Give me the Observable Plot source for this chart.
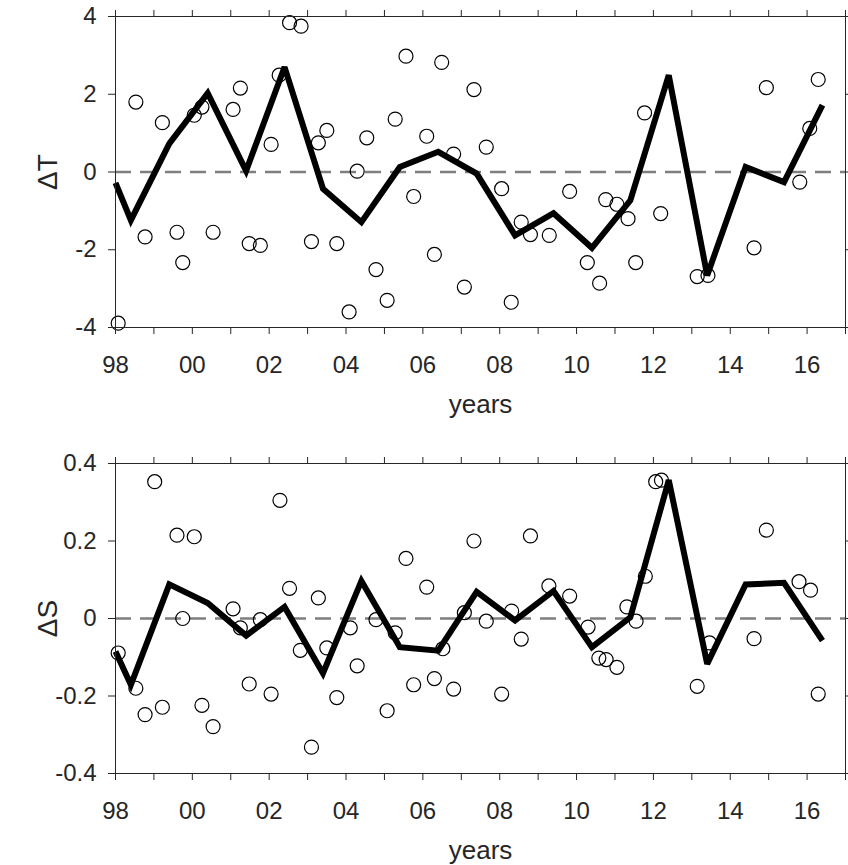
<!DOCTYPE html>
<html><head><meta charset="utf-8">
<script src="https://cdn.jsdelivr.net/npm/d3@7"></script>
<script src="https://cdn.jsdelivr.net/npm/@observablehq/plot@0.6"></script>
<style>
body{margin:0;background:#fff;}
#chart{width:848px;}
#chart svg{display:block;}
</style></head><body><div id="chart"></div>
<script>
// Smoothed (annual) series: years and values
const lineYears = [1998.0, 1998.4, 1999.4, 2000.4, 2001.4, 2002.4, 2003.4, 2004.4, 2005.4, 2006.4, 2007.4, 2008.4, 2009.4, 2010.4, 2011.4, 2012.4, 2013.4, 2014.4, 2015.4, 2016.4];
const tLine = [-0.28, -1.24, 0.73, 2.03, 0.03, 2.70, -0.43, -1.29, 0.13, 0.52, -0.04, -1.63, -1.06, -1.95, -0.73, 2.49, -2.66, 0.13, -0.26, 1.72];
const sLine = [-0.085, -0.171, 0.088, 0.040, -0.044, 0.030, -0.141, 0.097, -0.074, -0.083, 0.069, -0.005, 0.071, -0.074, 0.003, 0.357, -0.117, 0.088, 0.092, -0.057];

// Individual observations (circles)
const tDates = [1998.07, 1998.53, 1998.77, 1999.22, 1999.60, 1999.75, 2000.05, 2000.25, 2000.54, 2001.06, 2001.25, 2001.48, 2001.77, 2002.05, 2002.26, 2002.53, 2002.83, 2003.10, 2003.28, 2003.50, 2003.76, 2004.08, 2004.29, 2004.54, 2004.78, 2005.07, 2005.28, 2005.56, 2005.76, 2006.10, 2006.30, 2006.49, 2006.80, 2007.08, 2007.33, 2007.65, 2008.05, 2008.30, 2008.56, 2008.80, 2009.29, 2009.82, 2010.28, 2010.60, 2010.76, 2011.05, 2011.34, 2011.54, 2011.77, 2012.19, 2013.14, 2013.42, 2014.62, 2014.94, 2015.81, 2016.07, 2016.29];
const tValues = [-3.89, 1.80, -1.67, 1.27, -1.55, -2.33, 1.46, 1.67, -1.55, 1.61, 2.16, -1.84, -1.89, 0.71, 2.49, 3.84, 3.75, -1.79, 0.75, 1.07, -1.84, -3.60, 0.02, 0.88, -2.51, -3.30, 1.36, 2.98, -0.63, 0.92, -2.12, 2.82, 0.46, -2.96, 2.12, 0.64, -0.43, -3.35, -1.29, -1.61, -1.63, -0.50, -2.33, -2.86, -0.71, -0.83, -1.20, -2.33, 1.52, -1.07, -2.69, -2.66, -1.95, 2.17, -0.26, 1.12, 2.38];
const sDates = [1998.07, 1998.53, 1998.77, 1999.02, 1999.22, 1999.60, 1999.75, 2000.05, 2000.25, 2000.54, 2001.06, 2001.25, 2001.48, 2001.77, 2002.05, 2002.28, 2002.53, 2002.81, 2003.10, 2003.28, 2003.50, 2003.76, 2004.11, 2004.29, 2004.78, 2005.07, 2005.28, 2005.56, 2005.76, 2006.10, 2006.30, 2006.52, 2006.80, 2007.08, 2007.33, 2007.65, 2008.05, 2008.31, 2008.56, 2008.80, 2009.28, 2009.82, 2010.30, 2010.58, 2010.77, 2011.05, 2011.31, 2011.55, 2011.79, 2012.06, 2012.21, 2013.14, 2013.46, 2014.62, 2014.94, 2015.79, 2016.09, 2016.29];
const sValues = [-0.089, -0.180, -0.248, 0.353, -0.229, 0.215, 0.000, 0.211, -0.224, -0.279, 0.025, -0.024, -0.169, -0.003, -0.195, 0.305, 0.078, -0.082, -0.332, 0.053, -0.076, -0.204, -0.024, -0.122, -0.003, -0.238, -0.037, 0.155, -0.171, 0.081, -0.155, -0.078, -0.182, 0.015, 0.200, -0.007, -0.195, 0.019, -0.053, 0.213, 0.084, 0.058, -0.022, -0.102, -0.106, -0.126, 0.030, -0.007, 0.109, 0.353, 0.357, -0.175, -0.063, -0.052, 0.228, 0.095, 0.073, -0.195];

// Ticks and labels
const yearTicks = [1998, 1999, 2000, 2001, 2002, 2003, 2004, 2005, 2006, 2007, 2008, 2009, 2010, 2011, 2012, 2013, 2014, 2015, 2016, 2017];
const xLabelYears = [1998, 2000, 2002, 2004, 2006, 2008, 2010, 2012, 2014, 2016];
const xTickLabels = ["98", "00", "02", "04", "06", "08", "10", "12", "14", "16"];
const tTicks = [-4, -2, 0, 2, 4];
const tTickLabels = ["-4", "-2", "0", "2", "4"];
const sTicks = [-0.4, -0.2, 0, 0.2, 0.4];
const sTickLabels = ["-0.4", "-0.2", "0", "0.2", "0.4"];
const xLabel = "years";
const tLabel = "ΔT";
const sLabel = "ΔS";

const INK = "#262626";

function panel({height, marginTop, marginBottom, yDomain, yTicks, yTickLabels, yLabel, dates, values, lineValues}) {
  const pts = dates.map((x, i) => ({x, y: values[i]}));
  const line = lineYears.map((x, i) => ({x, y: lineValues[i]}));
  const xFmt = d => { const i = xLabelYears.indexOf(d); return i >= 0 ? xTickLabels[i] : ""; };
  const yFmt = d => { const i = yTicks.findIndex(v => Math.abs(v - d) < 1e-9); return i >= 0 ? yTickLabels[i] : ""; };
  return Plot.plot({
    width: 848, height, marginTop, marginBottom, marginLeft: 115, marginRight: 3,
    style: {fontFamily: "'Liberation Sans', Arial, sans-serif", fontSize: "24px", color: INK, background: "white", overflow: "visible"},
    x: {domain: [1998, 2017]},
    y: {domain: yDomain},
    marks: [
      Plot.ruleY([0], {stroke: "#7f7f7f", strokeWidth: 2.5, strokeDasharray: "16,9"}),
      Plot.line(line, {x: "x", y: "y", stroke: "black", strokeWidth: 6, strokeLinejoin: "miter", strokeLinecap: "butt", strokeMiterlimit: 3}),
      Plot.dot(pts, {x: "x", y: "y", r: 7, stroke: "black", strokeWidth: 1.2, fill: "none"}),
      Plot.frame({stroke: INK, strokeWidth: 1}),
      Plot.axisX({anchor: "bottom", ticks: yearTicks, tickSize: 7, tickPadding: 21, tickFormat: xFmt, label: null}),
      Plot.axisX({anchor: "top", ticks: yearTicks, tickSize: 7, tickFormat: () => "", label: null}),
      Plot.axisY({anchor: "left", ticks: yTicks, tickSize: 7, tickPadding: 12, tickFormat: yFmt, label: null}),
      Plot.axisY({anchor: "right", ticks: yTicks, tickSize: 7, tickFormat: () => "", label: null}),
      Plot.text([xLabel], {text: d => d, frameAnchor: "bottom", dy: 85, lineAnchor: "bottom", fontSize: 26, fill: INK}),
      Plot.text([yLabel], {text: d => d, frameAnchor: "left", dx: -67, rotate: -90, lineAnchor: "middle", textAnchor: "middle", fontSize: 28, fill: INK})
    ]
  });
}

const chart = document.getElementById("chart");
chart.appendChild(panel({height: 440, marginTop: 16, marginBottom: 113, yDomain: [-4, 4], yTicks: tTicks, yTickLabels: tTickLabels, yLabel: tLabel, dates: tDates, values: tValues, lineValues: tLine}));
chart.appendChild(panel({height: 425, marginTop: 23, marginBottom: 92, yDomain: [-0.4, 0.4], yTicks: sTicks, yTickLabels: sTickLabels, yLabel: sLabel, dates: sDates, values: sValues, lineValues: sLine}));
</script>
</body></html>
